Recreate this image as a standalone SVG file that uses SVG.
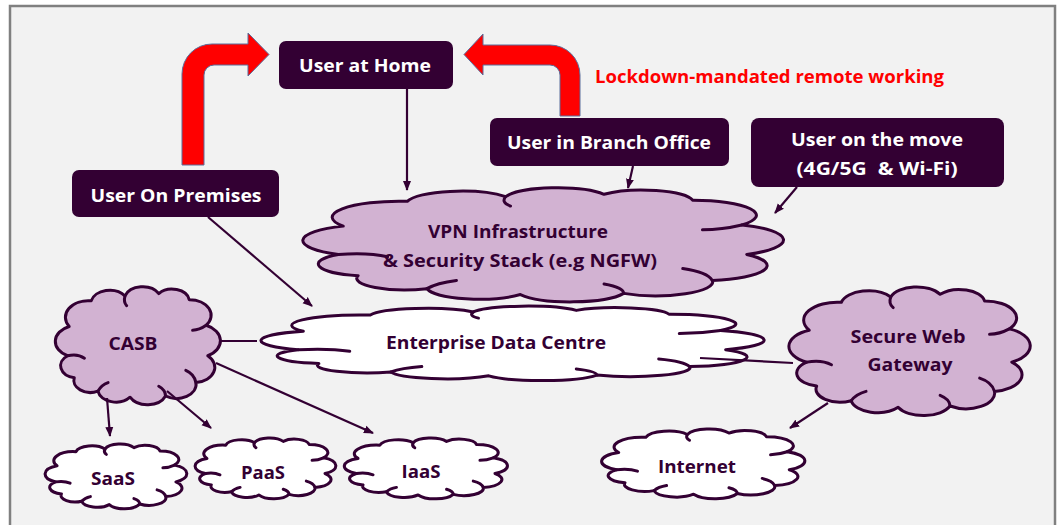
<svg xmlns="http://www.w3.org/2000/svg" xmlns:xlink="http://www.w3.org/1999/xlink" width="1059" height="525" viewBox="0 0 1059 525">
  <style>
    .box { fill: #330033; }
    .box-text { font-family: "Open Sans", Lato, "Liberation Sans", sans-serif; font-weight: bold; font-size: 18px; fill: #ffffff; text-anchor: middle; }
    .cloud-text { font-family: "Open Sans", Lato, "Liberation Sans", sans-serif; font-weight: bold; font-size: 18px; fill: #330033; text-anchor: middle; }
    .note { font-family: "Open Sans", Lato, "Liberation Sans", sans-serif; font-weight: bold; font-size: 17px; fill: #ff0000; }
    .cloud-shape { stroke: #330033; stroke-width: 3; vector-effect: non-scaling-stroke; stroke-linejoin: round; }
    .cloud-crease { fill: none; stroke: #330033; stroke-width: 3; vector-effect: non-scaling-stroke; stroke-linecap: round; }
    .purple { fill: #d2b2d2; }
    .white { fill: #ffffff; }
    .link { stroke: #330033; stroke-width: 2.2; fill: none; }
    .arrowed { marker-end: url(#head); }
    .bent { fill: #ff0000; stroke: #5b6f9c; stroke-width: 1; }
  </style>
  <defs>
    <!-- cloud outline in a 100x100 box, stretched per node -->
    <path id="cloud-outline" class="cloud-shape" d="M8,58 A13.2,13.2 0 0 1 9,34 A13.6,13.6 0 0 1 22,13 A11.2,11.2 0 0 1 42,9 A11,11 0 0 1 62,7 A10.3,10.3 0 0 1 80,12 A12.8,12.8 0 0 1 90,33 A13.8,13.8 0 0 1 91,58 A12.7,12.7 0 0 1 84,80 A11.6,11.6 0 0 1 66,91 A11.6,11.6 0 0 1 45,92 A10.8,10.8 0 0 1 26,87 A9.8,9.8 0 0 1 12,76 A10.1,10.1 0 0 1 8,58 Z"/>
    <path id="cloud-creases" class="cloud-crease" d="M8,58 Q14,56 18,60 M42,9 Q41,14 43,17 M90,33 Q86,37 82,37 M84,80 Q83,73 78,70 M66,91 Q66,86 62,83 M26,87 Q28,82 32,80"/>
    <marker id="head" viewBox="0 0 10 10" refX="9" refY="5" markerWidth="10" markerHeight="10" markerUnits="userSpaceOnUse" orient="auto">
      <path d="M0,1 L10,5 L0,9 Z" fill="#330033"/>
    </marker>
  </defs>

  <!-- page and frame -->
  <rect x="0" y="0" width="1059" height="525" fill="#ffffff"/>
  <rect x="10" y="6" width="1045" height="540" fill="#f2f2f2" stroke="#808080" stroke-width="2.5"/>

  <!-- clouds -->
  <g id="vpn">
    <use xlink:href="#cloud-outline" class="purple" transform="translate(299,186) scale(4.92,1.18)"/>
    <use xlink:href="#cloud-creases" transform="translate(299,186) scale(4.92,1.18)"/>
    <text class="cloud-text" x="518" y="238" textLength="180" lengthAdjust="spacingAndGlyphs">VPN Infrastructure</text>
    <text class="cloud-text" x="520" y="267" textLength="274" lengthAdjust="spacingAndGlyphs">&amp; Security Stack (e.g NGFW)</text>
  </g>
  <g id="enterprise-dc">
    <use xlink:href="#cloud-outline" class="white" transform="translate(257,305) scale(5.15,0.77)"/>
    <use xlink:href="#cloud-creases" transform="translate(257,305) scale(5.15,0.77)"/>
    <text class="cloud-text" x="496" y="349" textLength="220" lengthAdjust="spacingAndGlyphs">Enterprise Data Centre</text>
  </g>
  <g id="casb">
    <use xlink:href="#cloud-outline" class="purple" transform="translate(54,285) scale(1.69,1.22)"/>
    <use xlink:href="#cloud-creases" transform="translate(54,285) scale(1.69,1.22)"/>
    <text class="cloud-text" x="133" y="350" textLength="49" lengthAdjust="spacingAndGlyphs">CASB</text>
  </g>
  <g id="swg">
    <use xlink:href="#cloud-outline" class="purple" transform="translate(787,285) scale(2.47,1.33)"/>
    <use xlink:href="#cloud-creases" transform="translate(787,285) scale(2.47,1.33)"/>
    <text class="cloud-text" x="908" y="343" textLength="115" lengthAdjust="spacingAndGlyphs">Secure Web</text>
    <text class="cloud-text" x="910" y="371" textLength="85" lengthAdjust="spacingAndGlyphs">Gateway</text>
  </g>
  <g id="saas">
    <use xlink:href="#cloud-outline" class="white" transform="translate(44,443) scale(1.45,0.67)"/>
    <use xlink:href="#cloud-creases" transform="translate(44,443) scale(1.45,0.67)"/>
    <text class="cloud-text" x="113" y="485" textLength="44" lengthAdjust="spacingAndGlyphs">SaaS</text>
  </g>
  <g id="paas">
    <use xlink:href="#cloud-outline" class="white" transform="translate(194,437) scale(1.44,0.63)"/>
    <use xlink:href="#cloud-creases" transform="translate(194,437) scale(1.44,0.63)"/>
    <text class="cloud-text" x="263" y="479" textLength="44" lengthAdjust="spacingAndGlyphs">PaaS</text>
  </g>
  <g id="iaas">
    <use xlink:href="#cloud-outline" class="white" transform="translate(343,437) scale(1.67,0.63)"/>
    <use xlink:href="#cloud-creases" transform="translate(343,437) scale(1.67,0.63)"/>
    <text class="cloud-text" x="421" y="478" textLength="39" lengthAdjust="spacingAndGlyphs">IaaS</text>
  </g>
  <g id="internet">
    <use xlink:href="#cloud-outline" class="white" transform="translate(600,428) scale(2.08,0.72)"/>
    <use xlink:href="#cloud-creases" transform="translate(600,428) scale(2.08,0.72)"/>
    <text class="cloud-text" x="697" y="473" textLength="78" lengthAdjust="spacingAndGlyphs">Internet</text>
  </g>

  <!-- user boxes -->
  <g id="user-home">
    <rect class="box" x="279" y="41" width="174" height="48" rx="7"/>
    <text class="box-text" x="365" y="72" textLength="132" lengthAdjust="spacingAndGlyphs">User at Home</text>
  </g>
  <g id="user-premises">
    <rect class="box" x="72" y="170" width="207" height="47" rx="7"/>
    <text class="box-text" x="176" y="202" textLength="171" lengthAdjust="spacingAndGlyphs">User On Premises</text>
  </g>
  <g id="user-branch">
    <rect class="box" x="490" y="118" width="239" height="48" rx="7"/>
    <text class="box-text" x="609" y="149" textLength="204" lengthAdjust="spacingAndGlyphs">User in Branch Office</text>
  </g>
  <g id="user-mobile">
    <rect class="box" x="751" y="118" width="253" height="69" rx="8"/>
    <text class="box-text" x="877" y="146" textLength="172" lengthAdjust="spacingAndGlyphs">User on the move</text>
    <text class="box-text" x="877" y="175" textLength="161" lengthAdjust="spacingAndGlyphs" xml:space="preserve">(4G/5G  &amp; Wi-Fi)</text>
  </g>

  <text class="note" x="595" y="83" textLength="349" lengthAdjust="spacingAndGlyphs">Lockdown-mandated remote working</text>

  <!-- connectors -->
  <g id="connectors">
    <path class="bent" d="M182,165 L182,74 A30,30 0 0 1 212,44 L248,44 L248,33 L269,54.5 L248,76 L248,65 L214,65 A10,10 0 0 0 204,75 L204,165 Z"/>
    <path class="bent" d="M580,116 L580,75 A30,30 0 0 0 550,45 L483,45 L483,34 L464,54.5 L483,75 L483,65 L550,65 A10,10 0 0 1 560,75 L560,116 Z"/>
    <path class="link arrowed" d="M407,89 L407,190"/>
    <path class="link arrowed" d="M633,166 L628,188"/>
    <path class="link arrowed" d="M797,187 L775,213"/>
    <path class="link arrowed" d="M208,217 L312,306"/>
    <path class="link" d="M221,341 L257,341"/>
    <path class="link arrowed" d="M107,398 L110,436"/>
    <path class="link arrowed" d="M167,391 L211,428"/>
    <path class="link arrowed" d="M216,363 L373,433"/>
    <path class="link" d="M700,358 L793,363"/>
    <path class="link arrowed" d="M828,403 L790,428"/>
  </g>
</svg>
